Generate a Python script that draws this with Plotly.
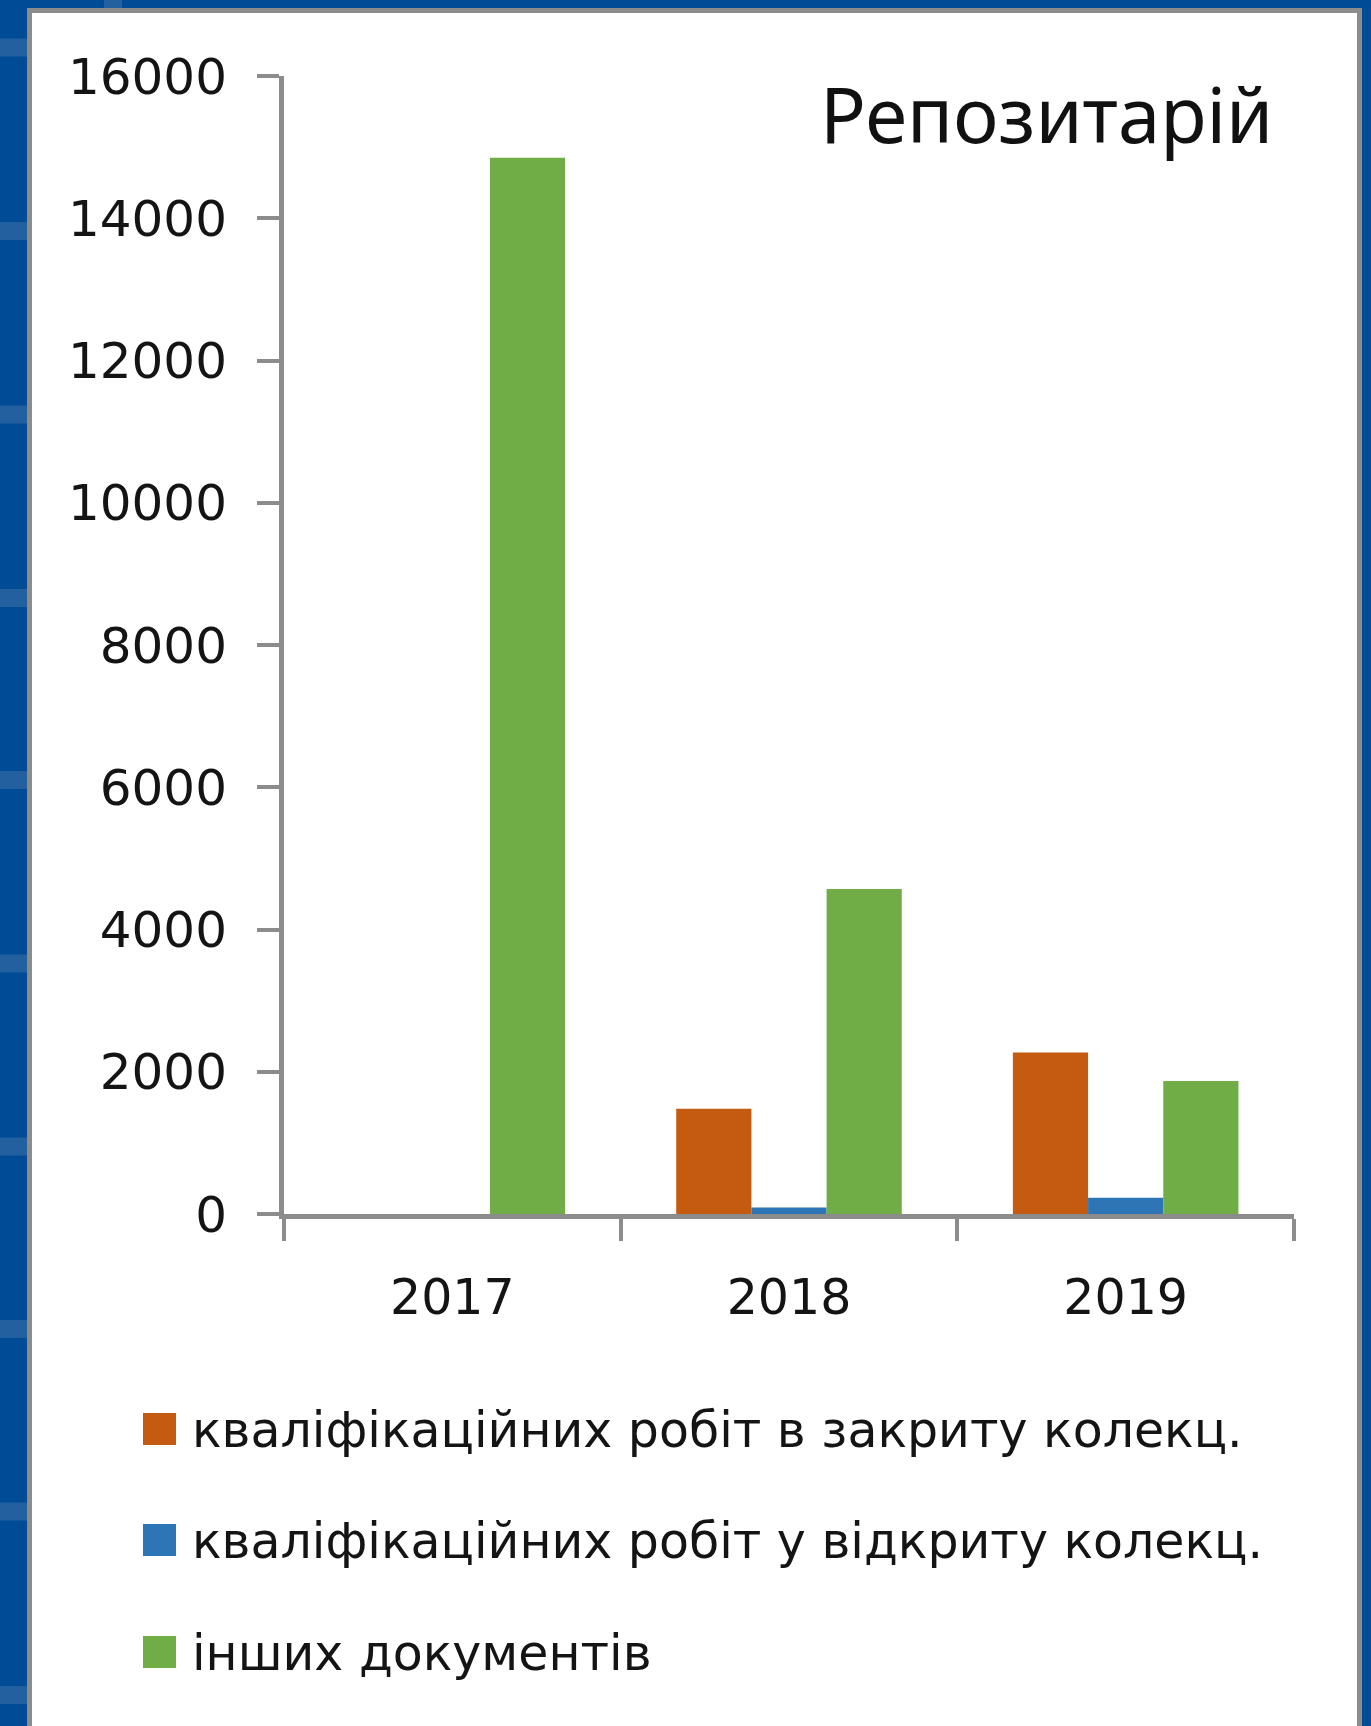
import plotly.graph_objects as go

# ---- data ----
categories = ["2017", "2018", "2019"]
series_names = [
    "кваліфікаційних робіт в закриту колекц.",
    "кваліфікаційних робіт у відкриту колекц.",
    "інших документів",
]
closed_collection = [0, 1480, 2270]
open_collection = [0, 90, 230]
other_documents = [14850, 4570, 1870]
series_values = [closed_collection, open_collection, other_documents]
series_colors = ["#C55A11", "#2E75B6", "#70AD47"]
y_tickvals = [0, 2000, 4000, 6000, 8000, 10000, 12000, 14000, 16000]
title_text = "Репозитарій"

# ---- layout geometry (pixels) ----
W_PX, H_PX = 1371, 1726
L, R, T, B = 284, 1294, 76, 1214
PW, PH = R - L, B - T


def xp(px):
    return (px - L) / PW


def yp(py):
    return (B - py) / PH


fig = go.Figure()
for name, vals, col in zip(series_names, series_values, series_colors):
    fig.add_trace(go.Bar(x=categories, y=vals, name=name, marker_color=col,
                         marker_line_width=0, showlegend=False))

AX = "#8C8C8C"
TXT = "#141414"

shapes = []
# white panel with gray border
shapes.append(dict(type="rect", xref="paper", yref="paper", layer="below",
                   x0=xp(29.5), x1=xp(1359.5), y0=yp(1800), y1=yp(10.5),
                   fillcolor="white", line=dict(color=AX, width=5)))
# lighter patches in the blue frame
for cy in [47.5, 231, 414.5, 598, 780, 963.5, 1146.5, 1329, 1511.5, 1695]:
    shapes.append(dict(type="rect", xref="paper", yref="paper", layer="below",
                       x0=xp(0), x1=xp(27), y0=yp(cy + 9), y1=yp(cy - 9),
                       fillcolor="#23609F", line=dict(width=0)))
shapes.append(dict(type="rect", xref="paper", yref="paper", layer="below",
                   x0=xp(104), x1=xp(122), y0=yp(8), y1=yp(0),
                   fillcolor="#23609F", line=dict(width=0)))

annotations = [dict(text=title_text, xref="paper", yref="paper",
                    x=xp(1046), y=yp(113), xanchor="center", yanchor="middle",
                    showarrow=False,
                    font=dict(family="Noto Sans", size=76, color="#111111"))]

# custom legend
legend_rows = [1429, 1540, 1652]
for name, col, cy in zip(series_names, series_colors, legend_rows):
    shapes.append(dict(type="rect", xref="paper", yref="paper",
                       x0=xp(143), x1=xp(176), y0=yp(cy + 16), y1=yp(cy - 16),
                       fillcolor=col, line=dict(width=0)))
    annotations.append(dict(text=name, xref="paper", yref="paper",
                            x=xp(190), y=yp(cy + 1), xanchor="left",
                            yanchor="middle", showarrow=False,
                            font=dict(family="DejaVu Sans", size=49, color=TXT)))

fig.update_layout(
    width=W_PX, height=H_PX,
    margin=dict(l=L, r=W_PX - R, t=T, b=H_PX - B, pad=0),
    paper_bgcolor="#004B96",
    plot_bgcolor="white",
    barmode="group",
    bargap=0.33,
    bargroupgap=0,
    showlegend=False,
    shapes=shapes,
    annotations=annotations,
    xaxis=dict(
        type="category",
        showline=True, linecolor=AX, linewidth=5,
        ticks="outside", tickson="boundaries", ticklen=22, tickwidth=4,
        tickcolor=AX, showgrid=False, zeroline=False,
        ticklabelstandoff=36,
        tickfont=dict(family="DejaVu Sans", size=49, color=TXT),
    ),
    yaxis=dict(
        range=[0, 16000],
        tickvals=y_tickvals,
        ticktext=[str(v) for v in y_tickvals],
        showline=True, linecolor=AX, linewidth=5,
        ticks="outside", ticklen=22, tickwidth=4, tickcolor=AX,
        showgrid=False, zeroline=False,
        ticklabelstandoff=20,
        tickfont=dict(family="DejaVu Sans", size=50, color=TXT),
    ),
)

fig.write_html(
    "out.html",
    config={"displayModeBar": False},
    post_script="document.body.style.margin='0';document.body.style.background='#004B96';",
)
